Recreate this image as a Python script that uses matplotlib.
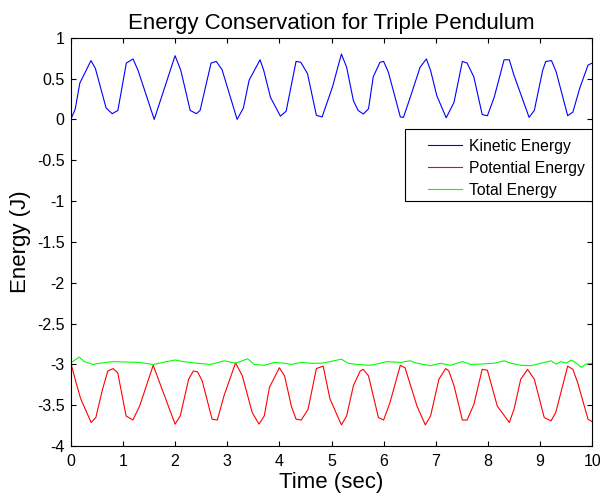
import matplotlib.pyplot as plt
import numpy as np
from matplotlib.patches import Rectangle

plt.rcParams['font.family'] = ['Liberation Sans', 'DejaVu Sans']
plt.rcParams['axes.unicode_minus'] = False

# values (time in sec, energy in J)
t_kin = [0, 0.084, 0.174, 0.387, 0.471, 0.677, 0.794, 0.903, 1.065, 1.194, 1.29, 1.60,
         2.0, 2.11, 2.29, 2.41, 2.48, 2.69, 2.79, 2.90, 3.19, 3.31, 3.42, 3.63, 3.70,
         3.83, 4.02, 4.13, 4.32, 4.41, 4.54, 4.71, 4.82, 5.02, 5.19, 5.29, 5.42, 5.51,
         5.61, 5.71, 5.80, 5.93, 6.0, 6.09, 6.32, 6.38, 6.51, 6.70, 6.82, 6.90, 7.02,
         7.20, 7.35, 7.51, 7.60, 7.73, 7.89, 7.99, 8.12, 8.31, 8.41, 8.50, 8.79, 8.89,
         9.05, 9.11, 9.22, 9.31, 9.53, 9.63, 9.76, 9.92, 10.0]
kinetic = [0.0, 0.125, 0.446, 0.72, 0.625, 0.14, 0.07, 0.11, 0.69, 0.74, 0.60, 0.0,
           0.78, 0.60, 0.11, 0.07, 0.11, 0.69, 0.71, 0.61, 0.0, 0.14, 0.48, 0.73, 0.60,
           0.27, 0.04, 0.10, 0.71, 0.70, 0.56, 0.05, 0.03, 0.40, 0.80, 0.64, 0.23, 0.11,
           0.066, 0.13, 0.52, 0.70, 0.71, 0.58, 0.03, 0.025, 0.27, 0.64, 0.74, 0.60, 0.29,
           0.02, 0.21, 0.71, 0.69, 0.52, 0.06, 0.045, 0.27, 0.73, 0.73, 0.54, 0.025, 0.11,
           0.60, 0.71, 0.72, 0.58, 0.045, 0.09, 0.38, 0.665, 0.69]

t_pot = [0, 0.10, 0.19, 0.39, 0.48, 0.61, 0.71, 0.81, 0.90, 1.06, 1.19, 1.32, 1.58,
         2.0, 2.10, 2.26, 2.35, 2.43, 2.52, 2.71, 2.81, 2.94, 3.16, 3.29, 3.48, 3.61,
         3.71, 3.81, 4.0, 4.10, 4.23, 4.32, 4.42, 4.55, 4.71, 4.84, 4.97, 5.19, 5.29,
         5.42, 5.55, 5.61, 5.71, 5.90, 6.0, 6.12, 6.32, 6.41, 6.64, 6.80, 6.90, 7.06,
         7.19, 7.25, 7.35, 7.51, 7.60, 7.73, 7.89, 7.99, 8.18, 8.41, 8.50, 8.63, 8.76,
         8.89, 9.08, 9.21, 9.30, 9.53, 9.63, 9.72, 9.92, 10.0]
potential = [-2.98, -3.22, -3.42, -3.71, -3.65, -3.30, -3.08, -3.05, -3.10, -3.63, -3.68,
             -3.51, -3.01, -3.73, -3.63, -3.18, -3.08, -3.09, -3.20, -3.67, -3.68, -3.38,
             -2.98, -3.14, -3.59, -3.73, -3.63, -3.28, -3.04, -3.14, -3.51, -3.67, -3.68,
             -3.55, -3.05, -3.02, -3.42, -3.74, -3.63, -3.26, -3.08, -3.06, -3.14, -3.65,
             -3.68, -3.47, -3.01, -3.04, -3.51, -3.74, -3.63, -3.18, -3.05, -3.08, -3.26,
             -3.68, -3.68, -3.49, -3.06, -3.07, -3.51, -3.71, -3.55, -3.18, -3.06, -3.18,
             -3.65, -3.69, -3.59, -3.02, -3.06, -3.22, -3.67, -3.70]

t_tot = [0, 0.16, 0.26, 0.42, 0.55, 0.81, 1.06, 1.32, 1.58, 1.84, 2.0, 2.16, 2.42,
         2.68, 2.94, 3.16, 3.39, 3.52, 3.71, 3.90, 4.10, 4.23, 4.42, 4.61, 4.81, 4.97,
         5.19, 5.32, 5.48, 5.74, 5.93, 6.06, 6.32, 6.51, 6.64, 6.90, 7.09, 7.28, 7.51,
         7.67, 7.86, 8.12, 8.31, 8.44, 8.63, 8.82, 9.02, 9.21, 9.31, 9.40, 9.50, 9.60,
         9.72, 9.79, 9.88, 10.0]
total = [-2.98, -2.91, -2.965, -3.0, -2.985, -2.965, -2.97, -2.975, -3.0, -2.965, -2.945,
         -2.965, -2.985, -3.0, -2.955, -2.985, -2.93, -3.0, -3.01, -2.975, -2.985, -3.0,
         -2.975, -2.985, -2.985, -2.965, -2.935, -2.985, -3.0, -3.01, -2.985, -2.965,
         -2.975, -2.955, -2.985, -3.015, -2.985, -3.01, -2.965, -3.0, -2.995, -2.985,
         -2.955, -2.985, -3.01, -3.015, -2.985, -2.955, -2.995, -2.965, -2.985, -2.945,
         -2.995, -3.035, -2.995, -2.985]

fig = plt.figure(figsize=(6.0, 5.03), dpi=100)
ax = fig.add_axes([0.118, 0.113, 0.869, 0.812])

ax.plot(t_kin, kinetic, color=(0, 0, 1), lw=0.8, label='Kinetic Energy')
ax.plot(t_pot, potential, color=(1, 0, 0), lw=0.8, label='Potential Energy')
ax.plot(t_tot, total, color=(0, 1, 0), lw=0.8, label='Total Energy')

ax.set_xlim(0, 10)
ax.set_ylim(-4, 1)
ax.set_xticks(np.arange(0, 11, 1))
ax.set_yticks(np.arange(-4, 1.01, 0.5))
ax.set_yticklabels(['-4', '-3.5', '-3', '-2.5', '-2', '-1.5', '-1', '-0.5', '0', '0.5', '1'])
ax.tick_params(direction='in', top=True, right=True, labelsize=11.5, length=3.8, width=0.8)
ax.tick_params(axis='x', pad=6)
ax.tick_params(axis='y', pad=4.5)
for s in ax.spines.values():
    s.set_linewidth(0.8)

ax.set_title('Energy Conservation for Triple Pendulum', fontsize=16, pad=6)
ax.set_xlabel('Time (sec)', fontsize=16, labelpad=2)
ax.set_ylabel('Energy (J)', fontsize=16, labelpad=4)

# legend box drawn separately so the padding matches the MATLAB one
ax.add_patch(Rectangle((0.641, 0.600), 0.358, 0.177, transform=ax.transAxes,
                       facecolor='white', edgecolor='black', lw=0.8, zorder=4))
leg = ax.legend(loc='upper left', bbox_to_anchor=(0.685, 0.753), borderaxespad=0,
                frameon=False, fontsize=11.3, handlelength=2.2, handletextpad=0.4,
                labelspacing=0.45, borderpad=0)
leg.set_zorder(5)

fig.savefig('out.png', dpi=100)
